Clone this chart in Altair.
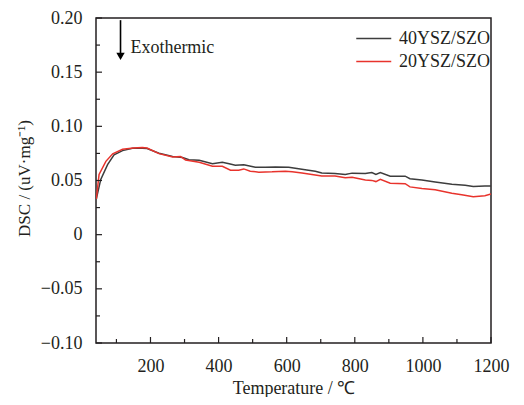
import altair as alt
import pandas as pd

FONT = "Liberation Serif"
INK = "#231f20"

series_names = ["40YSZ/SZO", "20YSZ/SZO"]
series_colors = ["#3d3d3d", "#e8332c"]

t_40 = [41, 54, 74, 93, 118, 147, 176, 190, 225, 265, 294, 313, 343, 382, 411, 431, 449, 474,
        508, 537, 567, 606, 630, 664, 684, 703, 742, 772, 792, 831, 840, 850, 862, 875, 904,
        948, 962, 997, 1036, 1085, 1124, 1148, 1182, 1200]
v_40 = [0.033, 0.051, 0.0646, 0.0737, 0.0776, 0.0797, 0.0797, 0.0795, 0.0752, 0.0722, 0.0713,
        0.0691, 0.0686, 0.0655, 0.0668, 0.0655, 0.064, 0.0646, 0.0622, 0.0622, 0.0625, 0.0622,
        0.061, 0.0595, 0.0586, 0.057, 0.0565, 0.0556, 0.0568, 0.0565, 0.057, 0.0574, 0.0556,
        0.0574, 0.054, 0.054, 0.0516, 0.0505, 0.0487, 0.0465, 0.0456, 0.0444, 0.045, 0.045]

t_20 = [41, 49, 69, 89, 118, 150, 176, 190, 225, 265, 288, 303, 343, 382, 411, 435, 459, 474,
        493, 518, 557, 596, 616, 645, 674, 703, 742, 772, 792, 831, 850, 862, 875, 904, 948,
        962, 997, 1036, 1085, 1114, 1148, 1182, 1200]
v_20 = [0.033, 0.0556, 0.0677, 0.0746, 0.0788, 0.080, 0.0804, 0.080, 0.0748, 0.0716, 0.0722,
        0.069, 0.0668, 0.0631, 0.0631, 0.0595, 0.0595, 0.0607, 0.0586, 0.0577, 0.058, 0.0586,
        0.058, 0.057, 0.0556, 0.0541, 0.0541, 0.0526, 0.053, 0.0505, 0.0501, 0.049, 0.051,
        0.0474, 0.0471, 0.0441, 0.0426, 0.0414, 0.0383, 0.0369, 0.035, 0.036, 0.0375]

x_major = [200, 400, 600, 800, 1000, 1200]
x_minor = [100, 300, 500, 700, 900, 1100]
y_major = [-0.10, -0.05, 0.0, 0.05, 0.10, 0.15, 0.20]
y_minor = [-0.075, -0.025, 0.025, 0.075, 0.125, 0.175]

arrow_T = [112]
arrow_top = [0.198]
arrow_bottom = [0.167]
arrow_tip = [0.1645]
note_T = [141]
note_v = [0.172]
note_text = ["Exothermic"]

X_DOMAIN = [40, 1200]
Y_DOMAIN = [-0.10, 0.20]
W, H = 395, 325

df = pd.concat([
    pd.DataFrame({"T": t_40, "DSC": v_40, "series": series_names[0]}),
    pd.DataFrame({"T": t_20, "DSC": v_20, "series": series_names[1]}),
])

xs = alt.Scale(domain=X_DOMAIN, nice=False, zero=False)
ys = alt.Scale(domain=Y_DOMAIN, nice=False, zero=False)

x_axis = alt.Axis(
    title="Temperature / ℃", values=x_major, ticks=False, domain=False, grid=False,
    format="d",
    labelFont=FONT, labelFontSize=18, labelColor=INK, labelPadding=14,
    titleFont=FONT, titleFontSize=18, titleFontWeight="normal", titleColor=INK,
    titlePadding=4, labelFlush=False)
y_axis = alt.Axis(
    title="DSC / (uV·mg⁻¹)", values=y_major, ticks=False, domain=False, grid=False,
    labelExpr="datum.value == 0 ? '0' : replace(format(datum.value, '.2f'), '-', '−')",
    labelFont=FONT, labelFontSize=18, labelColor=INK, labelPadding=14, labelFlush=False,
    titleFont=FONT, titleFontSize=17, titleFontWeight="normal", titleColor=INK,
    titleX=-72, titleY=160, titleBaseline="middle", titleAngle=-90)


def X(field):
    return alt.X(field, type="quantitative", scale=xs, axis=x_axis, title="Temperature / ℃")


def Y(field):
    return alt.Y(field, type="quantitative", scale=ys, axis=y_axis, title="DSC / (uV·mg⁻¹)")


lines = alt.Chart(df).mark_line(strokeWidth=1.5, clip=True).encode(
    x=X("T"),
    y=Y("DSC"),
    color=alt.Color("series:N", scale=alt.Scale(domain=series_names, range=series_colors),
                    legend=alt.Legend(orient="none", legendX=277, legendY=11, title=None,
                                      symbolType="M-3,0H1", symbolSize=306,
                                      symbolStrokeWidth=1.5, labelFont=FONT,
                                      labelFontSize=18, labelColor=INK, labelOffset=7,
                                      rowPadding=4, padding=0)),
)

xmaj = alt.Chart(pd.DataFrame({"T": x_major})).mark_rule(color=INK, strokeWidth=1.2).encode(
    x=X("T"), y=alt.value(H), y2=alt.value(H - 6))
xmin = alt.Chart(pd.DataFrame({"T": x_minor})).mark_rule(color=INK, strokeWidth=1.2).encode(
    x=X("T"), y=alt.value(H), y2=alt.value(H - 4))
ymaj = alt.Chart(pd.DataFrame({"DSC": y_major})).mark_rule(color=INK, strokeWidth=1.2).encode(
    y=Y("DSC"), x=alt.value(0), x2=alt.value(6))
ymin = alt.Chart(pd.DataFrame({"DSC": y_minor})).mark_rule(color=INK, strokeWidth=1.2).encode(
    y=Y("DSC"), x=alt.value(0), x2=alt.value(4))

arrow_df = pd.DataFrame({"T": arrow_T, "DSC": arrow_top, "bottom": arrow_bottom})
arrow_line = alt.Chart(arrow_df).mark_rule(color="black", strokeWidth=1.6).encode(
    x=X("T"), y=Y("DSC"), y2="bottom:Q")
head_df = pd.DataFrame({"T": arrow_T, "DSC": arrow_tip})
arrow_head = alt.Chart(head_df).mark_point(shape="triangle-down", filled=True, color="black",
                                           opacity=1, size=70).encode(
    x=X("T"), y=Y("DSC"))

note = alt.Chart(pd.DataFrame({"T": note_T, "DSC": note_v, "label": note_text})).mark_text(
    align="left", baseline="middle", font=FONT, fontSize=18, color=INK).encode(
    x=X("T"), y=Y("DSC"), text="label:N")

chart = alt.layer(lines, xmaj, xmin, ymaj, ymin, arrow_line, arrow_head, note).properties(
    width=W, height=H,
    background="white",
    autosize=alt.AutoSizeParams(type="none"),
    padding={"left": 88, "top": 10, "right": 25, "bottom": 54},
).configure_view(stroke=INK, strokeWidth=1.5)

chart.save("out.html", embed_options={"renderer": "svg", "actions": False})
